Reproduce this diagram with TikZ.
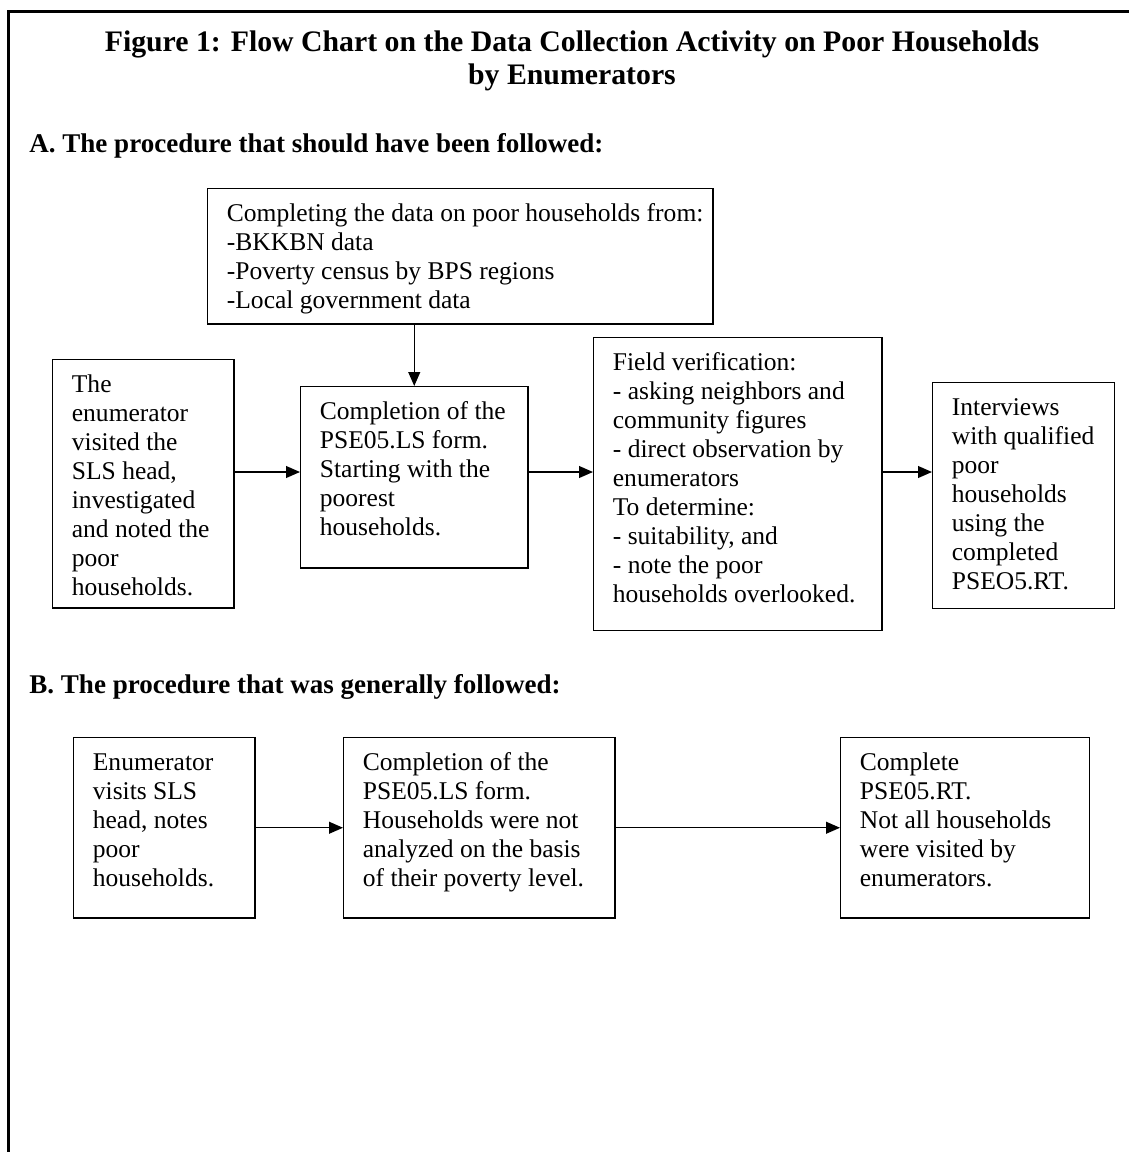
\documentclass[tikz,border=0pt]{standalone}
\usepackage{fontspec}
\setmainfont{Liberation Serif}
\usepackage{tikz}
\usetikzlibrary{arrows.meta, calc, positioning}
\newcommand{\boxlines}[3]{\parbox[t][#2][t]{#1}{\begin{tabular}[t]{@{}l@{}}#3\end{tabular}}}

\begin{document}
\begin{tikzpicture}[x=0.47pt, y=-0.47pt,
        stage/.style={draw, line width=0.7pt, anchor=north west, inner xsep=9pt, inner ysep=6pt,
            font=\fontsize{12}{13.6}\selectfont},
        flow/.style={-{Triangle[length=6.5pt,width=5.5pt]}, line width=0.7pt},
        heading/.style={anchor=base west, inner sep=0pt, font=\fontsize{12.7}{14}\selectfont\bfseries}]
    \useasboundingbox (0,0) rectangle (1129,1152);
    \draw[line width=1.1pt] (8.5,1152) |- (1129,11.5);
    \node[anchor=north, inner sep=0pt, align=center, font=\fontsize{14}{15.5}\selectfont\bfseries] (title) at (572,30.5)
        {Figure 1: Flow Chart on the Data Collection Activity on Poor Households\\by Enumerators};

    \node[heading] (headA) at (29,152) {A. The procedure that should have been followed:};
    \node[stage] (datasrc) at (207,188) {\boxlines{219.4pt}{51.5pt}{Completing the data on poor households from:\\-BKKBN data\\-Poverty census by BPS regions\\-Local government data}};
    \node[stage] (visit) at (52,359) {\boxlines{67.1pt}{104.6pt}{The\\enumerator\\visited the\\SLS head,\\investigated\\and noted the\\poor\\households.}};
    \node[stage] (formls) at (300,386) {\boxlines{88.7pt}{73.1pt}{Completion of the\\PSE05.LS form.\\Starting with the\\poorest\\households.}};
    \node[stage] (verify) at (593,337) {\boxlines{117.4pt}{125.7pt}{Field verification:\\- asking neighbors and\\community figures\\- direct observation by\\enumerators\\To determine:\\- suitability, and\\- note the poor\\households overlooked.}};
    \node[stage] (interview) at (932,382) {\boxlines{67.5pt}{94.2pt}{Interviews\\with qualified\\poor\\households\\using the\\completed\\PSEO5.RT.}};
    \coordinate (rowA) at (0,472);
    \draw[flow] (datasrc.south -| formls.north) -- (formls.north);
    \draw[flow] (visit.east |- rowA) -- (formls.west |- rowA);
    \draw[flow] (formls.east |- rowA) -- (verify.west |- rowA);
    \draw[flow] (verify.east |- rowA) -- (interview.west |- rowA);

    \node[heading] (headB) at (29,693) {B. The procedure that was generally followed:};
    \node[stage] (visitB) at (73,737) {\boxlines{67.1pt}{72.6pt}{Enumerator\\visits SLS\\head, notes\\poor\\households.}};
    \node[stage] (formB) at (343,737) {\boxlines{109.4pt}{72.6pt}{Completion of the\\PSE05.LS form.\\Households were not\\analyzed on the basis\\of their poverty level.}};
    \node[stage] (completeB) at (840,737) {\boxlines{99pt}{72.6pt}{Complete\\PSE05.RT.\\Not all households\\were visited by\\enumerators.}};
    \draw[flow] (visitB) -- (formB);
    \draw[flow] (formB) -- (completeB);
\end{tikzpicture}
\end{document}
